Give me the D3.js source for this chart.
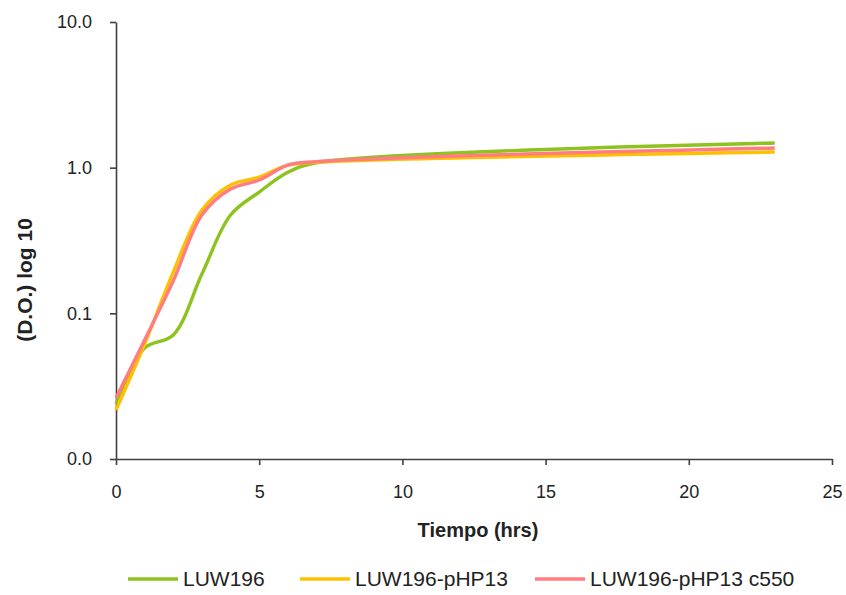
<!DOCTYPE html>
<html>
<head>
<meta charset="utf-8">
<script src="https://cdn.jsdelivr.net/npm/d3@7"></script>
<style>
  body { margin: 0; background: #fff; }
  text { font-family: "Liberation Sans", Arial, sans-serif; }
</style>
</head>
<body>
<div id="chart"></div>
<script>
// hours sampled
const hours = [0, 1, 2, 3, 4, 5, 6, 7, 23];

// optical density, one array per strain
const luw196 = [0.0238, 0.0578, 0.071, 0.186, 0.473, 0.68, 0.93, 1.08, 1.476];
const luw196pHP13 = [0.0217, 0.0616, 0.192, 0.512, 0.76, 0.863, 1.04, 1.09, 1.28];
const luw196pHP13c550 = [0.0262, 0.0656, 0.167, 0.473, 0.713, 0.823, 1.04, 1.10, 1.364];

const seriesNames = ["LUW196", "LUW196-pHP13", "LUW196-pHP13 c550"];
const seriesColors = ["#8DC21F", "#FFC000", "#FF7C80"];
const xTicks = [0, 5, 10, 15, 20, 25];
const yTicks = [0.01, 0.1, 1, 10];

const series = [luw196, luw196pHP13, luw196pHP13c550].map((vals, i) => ({
    name: seriesNames[i],
    color: seriesColors[i],
    points: vals.map((v, j) => ({ h: hours[j], v: v }))
}));

const W = 846, H = 595;
const margin = {top: 22, right: 14, bottom: 136, left: 116};
const width = W - margin.left - margin.right;
const height = H - margin.top - margin.bottom;

const svg = d3.select("#chart").append("svg")
    .attr("width", W)
    .attr("height", H);

const g = svg.append("g")
    .attr("transform", "translate(" + margin.left + "," + margin.top + ")");

const x = d3.scaleLinear().domain([0, 25]).range([0, width]);
const y = d3.scaleLog().domain([0.01, 10]).range([height, 0]);

// axes
const xAxis = d3.axisBottom(x).tickValues(xTicks).tickSize(6).tickPadding(20).tickSizeOuter(0);
const yAxis = d3.axisLeft(y).tickValues(yTicks).tickSize(6).tickPadding(18)
    .tickFormat(d3.format(".1f")).tickSizeOuter(0);

const gx = g.append("g")
    .attr("transform", "translate(0," + height + ")")
    .call(xAxis);
const gy = g.append("g").call(yAxis);

[gx, gy].forEach(a => {
    a.select(".domain").attr("stroke", "#404040").attr("stroke-width", 1.6);
    a.selectAll(".tick line").attr("stroke", "#404040").attr("stroke-width", 1.6);
    a.selectAll(".tick text").attr("fill", "#222").style("font-size", "18px");
});
gy.selectAll(".tick text").attr("dy", "0.32em");
gx.selectAll(".tick text").attr("dy", "0.71em");

// lines
const line = d3.line()
    .x(d => x(d.h))
    .y(d => y(d.v))
    .curve(d3.curveCatmullRom.alpha(0.5));

g.selectAll(".series")
    .data(series)
    .enter()
    .append("path")
    .attr("class", "series")
    .attr("fill", "none")
    .attr("stroke", d => d.color)
    .attr("stroke-width", 3.4)
    .attr("stroke-linejoin", "round")
    .attr("d", d => line(d.points));

// axis titles
svg.append("text")
    .attr("x", 478)
    .attr("y", 537)
    .attr("text-anchor", "middle")
    .style("font-size", "20px")
    .style("font-weight", "bold")
    .attr("fill", "#222")
    .text("Tiempo (hrs)");

svg.append("text")
    .attr("transform", "translate(32,280) rotate(-90)")
    .attr("text-anchor", "middle")
    .style("font-size", "21px")
    .style("font-weight", "bold")
    .attr("fill", "#222")
    .text("(D.O.) log 10");

// legend
const legendX = [128, 300, 535];
const legend = svg.selectAll(".legend")
    .data(series)
    .enter()
    .append("g")
    .attr("class", "legend")
    .attr("transform", (d, i) => "translate(" + legendX[i] + ",579)");

legend.append("line")
    .attr("x1", 0).attr("x2", 50)
    .attr("y1", 0).attr("y2", 0)
    .attr("stroke", d => d.color)
    .attr("stroke-width", 3.4);

legend.append("text")
    .attr("x", 55)
    .attr("y", 0)
    .attr("dy", "0.35em")
    .style("font-size", "21px")
    .attr("fill", "#222")
    .text(d => d.name);
</script>
</body>
</html>
